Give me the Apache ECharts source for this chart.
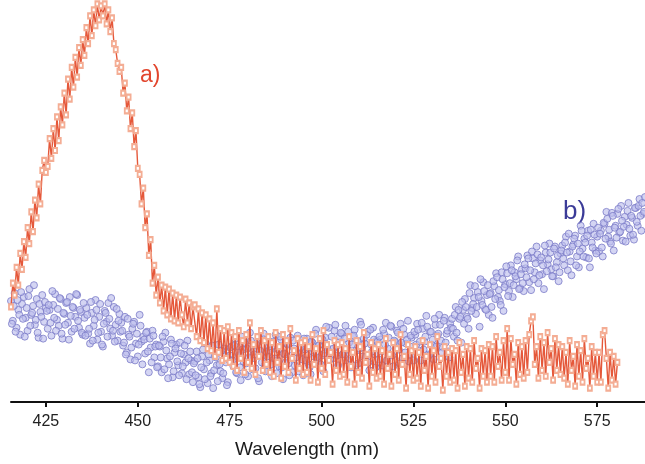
<!DOCTYPE html>
<html>
<head>
<meta charset="utf-8">
<script src="https://cdn.jsdelivr.net/npm/echarts@6/dist/echarts.min.js"></script>
<style>html,body{margin:0;padding:0;background:#fff}#c{width:645px;height:464px}</style>
</head>
<body>
<div id="c"></div>
<script>
// wavelength sampling (nm)
const redStart = 415.5, redStep = 0.5;
const blueAStart = 415.5, blueBStart = 415.75, blueStep = 0.5;
const xTicks = [425, 450, 475, 500, 525, 550, 575];

// series a) intensity (arbitrary units)
const redValues = [
96,120,108,136,118,150,134,162,146,176,160,192,172,204,186,220,200,234,244,232,
238,266,246,276,254,288,264,298,280,312,290,326,306,338,318,348,328,358,340,366,
350,378,362,390,370,396,380,402,386,400,390,402,382,396,374,388,362,356,342,334,
338,312,322,294,308,276,292,258,274,236,230,200,216,176,190,148,164,120,138,108,
126,100,118,92,116,88,114,84,110,82,108,80,106,88,76,104,80,100,74,96,
98,66,94,62,90,60,88,54,84,52,80,46,94,50,74,42,72,44,76,40,
70,36,66,32,72,44,62,30,68,40,80,34,58,28,66,46,72,32,62,38,
66,30,60,26,70,40,56,24,68,36,62,30,74,44,52,22,64,34,60,28,
62,30,56,22,68,38,54,20,64,34,72,28,58,42,50,18,62,32,58,26,
60,28,54,20,66,36,50,18,62,30,56,24,70,40,48,16,60,30,54,24,
58,26,52,18,64,34,48,16,60,28,54,22,68,38,46,14,58,28,52,22,
56,24,50,16,62,32,46,14,58,26,52,20,66,36,44,12,56,26,50,20,
54,22,52,14,60,30,48,16,56,24,54,20,62,34,44,14,54,26,52,20,
58,26,56,20,66,36,50,22,62,30,74,22,64,38,48,18,60,28,56,24,
62,30,68,82,86,38,56,24,66,32,60,26,70,40,54,22,64,32,58,28,
56,24,50,18,62,32,46,16,58,26,52,20,64,34,44,14,56,26,50,20,
50,20,68,72,44,14,50,22,46,18,40
];

// series b) intensity, two interleaved sweeps
const blueAValues = [
102,82,110,75,93,68,99,106,85,72,114,88,97,78,104,65,91,108,81,95,
74,93,67,98,109,83,77,104,64,89,100,80,106,71,95,86,108,75,91,68,
85,95,69,59,90,77,103,63,86,71,56,92,81,100,74,67,96,78,62,89,
80,57,86,50,68,43,74,81,59,46,88,61,66,49,71,30,55,72,45,58,
36,56,30,61,70,44,38,63,25,50,58,37,60,29,48,40,62,28,42,20,
41,51,25,15,46,33,59,19,42,29,14,48,37,58,31,24,54,40,20,47,
56,36,64,29,47,22,53,60,39,26,70,44,51,34,60,21,47,64,37,51,
32,52,26,57,68,42,36,63,23,48,59,39,65,30,54,45,67,34,50,27,
53,64,38,28,60,46,73,40,58,47,31,65,55,75,50,44,72,56,37,66,
69,49,77,42,60,35,66,73,52,39,81,55,64,45,71,32,58,75,48,62,
43,63,37,69,80,54,48,76,36,61,72,53,79,44,68,59,82,48,65,42,
68,79,52,42,74,61,87,48,71,58,43,78,67,88,62,55,85,69,51,79,
84,66,96,62,84,60,93,104,86,74,118,95,105,89,111,76,102,121,94,108,
88,110,85,117,130,106,102,131,92,119,130,112,138,106,131,124,147,115,134,112,
135,148,121,113,145,131,157,120,143,129,114,151,139,160,134,127,157,141,122,150,
158,138,167,133,152,128,159,168,147,136,178,155,165,146,173,136,161,180,153,167,
152,173,147,180,192,167,162,191,153,178,190,171,198,163,187,179,201,168,186,164,
196,178,205,173,190,207
];
const blueBValues = [
79,97,71,103,88,111,84,66,95,107,77,90,118,83,70,99,86,64,101,92,
98,80,112,85,72,94,105,69,90,78,101,63,87,96,74,109,82,93,70,100,
67,88,74,101,62,83,93,70,99,58,79,90,66,84,105,72,61,94,82,71,
72,60,48,84,66,55,79,42,69,58,77,38,63,70,51,64,40,67,56,35,
57,45,66,33,52,24,46,59,31,54,41,27,49,36,57,23,44,51,30,39,
27,44,18,35,53,23,40,48,26,57,32,45,21,38,52,29,46,17,43,55,
42,57,30,50,35,66,41,28,54,45,62,33,48,58,24,52,40,69,31,46,
56,38,61,44,29,53,66,35,49,40,58,27,47,62,37,50,31,55,43,64,
42,55,35,61,50,69,45,57,38,63,49,76,52,43,66,54,78,47,60,70,
48,64,53,71,44,58,67,37,62,54,78,46,59,68,40,73,51,63,35,61,
66,51,73,58,42,65,77,47,62,54,70,39,60,74,50,63,41,67,56,71,
58,73,61,80,53,66,76,47,71,63,84,56,69,78,50,82,60,72,45,75,
74,88,70,93,86,101,79,96,84,110,92,99,117,96,106,124,98,112,93,118,
109,96,122,104,126,113,98,124,116,137,107,120,133,118,127,143,114,129,120,139,
126,145,133,152,124,140,149,128,146,138,158,132,144,151,127,155,136,148,131,153,
145,161,151,170,142,157,165,138,160,152,173,147,161,168,145,174,156,169,150,176,
170,156,181,165,185,174,160,188,176,166,195,172,183,177,162,193,175,188,169,196,
182,198,188,201,192
];

const redData = redValues.map((v, i) => [redStart + i * redStep, v]);
const blueData = blueAValues.map((v, i) => [blueAStart + i * blueStep, v])
  .concat(blueBValues.map((v, i) => [blueBStart + i * blueStep, v]));

const chart = echarts.init(document.getElementById('c'), null, {renderer: 'canvas'});
chart.setOption({
  animation: false,
  backgroundColor: '#ffffff',
  grid: {left: 11, right: 0, top: 0, bottom: 58, containLabel: false},
  xAxis: {
    type: 'value', min: 415.5, max: 588,
    name: 'Wavelength (nm)', nameLocation: 'middle', nameGap: 38,
    nameTextStyle: {fontFamily: 'Liberation Sans', fontSize: 19, color: '#1a1a1a', padding: [0, 42, 0, 0]},
    axisLine: {show: true, lineStyle: {color: '#111', width: 2}},
    axisTick: {show: true, inside: false, length: 5, lineStyle: {color: '#111', width: 2}, customValues: xTicks},
    axisLabel: {customValues: xTicks, margin: 12, fontFamily: 'Liberation Sans', fontSize: 16, color: '#222'},
    splitLine: {show: false}
  },
  yAxis: {
    type: 'value', min: 0, max: 406,
    show: false
  },
  graphic: [
    {type: 'text', left: 140, top: 64, style: {text: 'a)', font: '23px "Liberation Sans"', fill: '#e2462e'}},
    {type: 'text', left: 563, top: 199, style: {text: 'b)', font: '26px "Liberation Sans"', fill: '#3b3b98'}}
  ],
  series: [
    {
      name: 'b', type: 'scatter', data: blueData, symbol: 'circle', symbolSize: 7,
      itemStyle: {color: 'rgba(188,190,236,0.8)', borderColor: '#7c7cc8', borderWidth: 1},
      z: 2
    },
    {
      name: 'a', type: 'line', data: redData, symbol: 'emptyRect', symbolSize: [4, 5],
      showSymbol: true, showAllSymbol: true,
      lineStyle: {color: '#e5583a', width: 1.4},
      itemStyle: {color: '#f4ad94', borderColor: '#e85e40', borderWidth: 1},
      z: 3
    }
  ]
});
</script>
</body>
</html>
